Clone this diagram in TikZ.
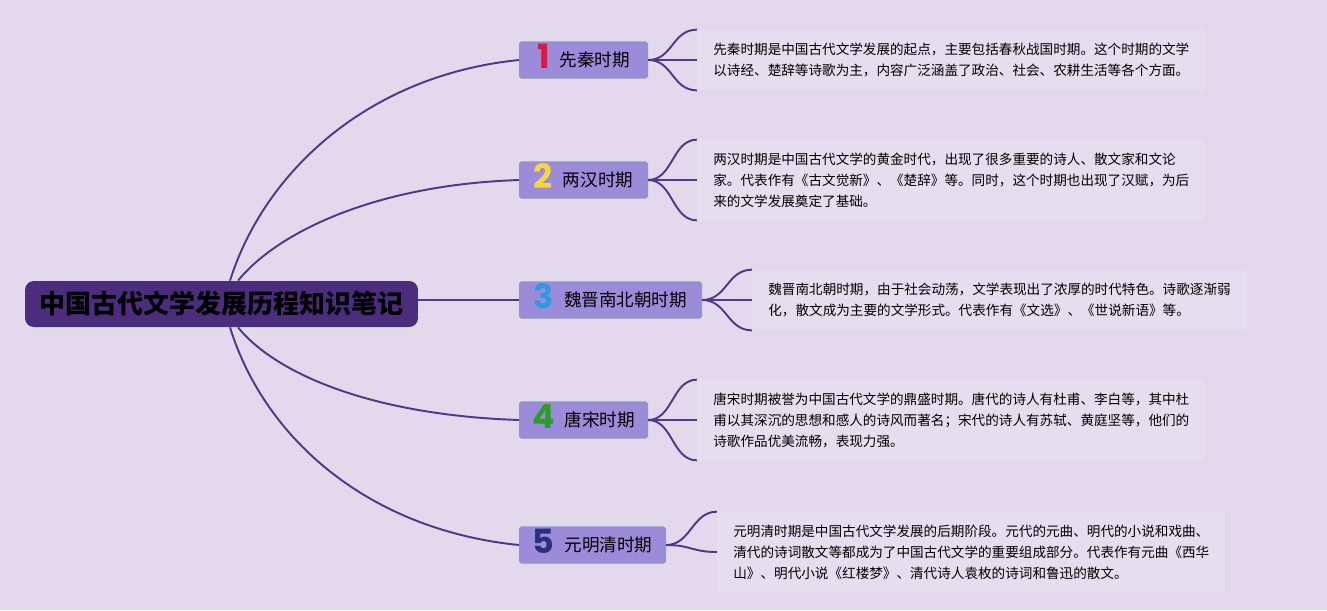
\documentclass[tikz,border=0pt]{standalone}
\usepackage{fontspec}
\setmainfont{Noto Sans CJK SC}
\newfontfamily\numfont{Poppins}

\definecolor{bgpurple}{HTML}{E2DAEC}
\definecolor{notefill}{HTML}{E5DEEE}
\definecolor{rootpurple}{HTML}{4C2D7D}
\definecolor{boxpurple}{HTML}{9B8BD9}
\definecolor{boxedge}{HTML}{8A9AB8}
\definecolor{linepurple}{HTML}{52368A}
\definecolor{numred}{HTML}{E0183C}
\definecolor{numyellow}{HTML}{F5D838}
\definecolor{numblue}{HTML}{2C9BE0}
\definecolor{numgreen}{HTML}{28A028}
\definecolor{numnavy}{HTML}{283080}

% coloured period number in front of the label
\newcommand{\periodnum}[2]{\smash{\raisebox{-1pt}{\numfont\bfseries\fontsize{19}{19}\selectfont\color{#1}#2}}\hspace{0.2cm}}

\tikzset{
  root/.style={fill=rootpurple, rounded corners=5pt, minimum width=7.86cm,
    minimum height=0.92cm, inner sep=0pt, text=black,
    font=\fontsize{14.8}{16}\selectfont\bfseries},
  period/.style={fill=boxpurple, draw=boxedge, line width=0.6pt, rounded corners=1pt,
    minimum height=0.72cm, inner sep=0pt, anchor=west,
    font=\fontsize{10}{12}\selectfont},
  note/.style={fill=notefill, anchor=west, align=left, inner xsep=0.32cm,
    inner ysep=0pt, font=\fontsize{7.74}{11.95}\selectfont},
  link/.style={draw=linepurple, line width=1.1pt},
}

\begin{document}
\begin{tikzpicture}[x=0.02cm, y=-0.02cm]

\fill[bgpurple] (0,0) rectangle (1327,610);
\useasboundingbox (0,0) rectangle (1327,610);

% ===== Root =====
\node[root] (root) at (221.5,304) {中国古代文学发展历程知识笔记};

% ===== Periods =====
\node[period, minimum width=2.56cm] (p1) at (519,60)  {\periodnum{numred}{1}先秦时期};
\node[period, minimum width=2.56cm] (p2) at (519,180) {\periodnum{numyellow}{2}两汉时期};
\node[period, minimum width=3.64cm] (p3) at (519,300) {\periodnum{numblue}{3}魏晋南北朝时期};
\node[period, minimum width=2.56cm] (p4) at (519,420) {\periodnum{numgreen}{4}唐宋时期};
\node[period, minimum width=2.92cm] (p5) at (519,545) {\periodnum{numnavy}{5}元明清时期};

% ===== Notes =====
\node[note, minimum height=1.2cm] (n1) at (697,60)
  {先秦时期是中国古代文学发展的起点，主要包括春秋战国时期。这个时期的文学\\
   以诗经、楚辞等诗歌为主，内容广泛涵盖了政治、社会、农耕生活等各个方面。};
\node[note, minimum height=1.6cm] (n2) at (697,180)
  {两汉时期是中国古代文学的黄金时代，出现了很多重要的诗人、散文家和文论\\
   家。代表作有《古文觉新》、《楚辞》等。同时，这个时期也出现了汉赋，为后\\
   来的文学发展奠定了基础。};
\node[note, minimum height=1.2cm] (n3) at (752,300)
  {魏晋南北朝时期，由于社会动荡，文学表现出了浓厚的时代特色。诗歌逐渐弱\\
   化，散文成为主要的文学形式。代表作有《文选》、《世说新语》等。};
\node[note, minimum height=1.6cm] (n4) at (697,420)
  {唐宋时期被誉为中国古代文学的鼎盛时期。唐代的诗人有杜甫、李白等，其中杜\\
   甫以其深沉的思想和感人的诗风而著名；宋代的诗人有苏轼、黄庭坚等，他们的\\
   诗歌作品优美流畅，表现力强。};
\node[note, minimum height=1.6cm] (n5) at (717,552)
  {元明清时期是中国古代文学发展的后期阶段。元代的元曲、明代的小说和戏曲、\\
   清代的诗词散文等都成为了中国古代文学的重要组成部分。代表作有元曲《西华\\
   山》、明代小说《红楼梦》、清代诗人袁枚的诗词和鲁迅的散文。};

% ===== Root to periods =====
\draw[link] ([xshift=0.17cm]root.north) .. controls (265,170) and (370,75) .. (p1.west);
\draw[link] ([xshift=0.33cm]root.north) .. controls (275,235) and (370,185) .. (p2.west);
\draw[link] (root.east |- p3.west) -- (p3.west);
\draw[link] ([xshift=0.33cm]root.south) .. controls (275,373) and (370,415) .. (p4.west);
\draw[link] ([xshift=0.17cm]root.south) .. controls (265,440) and (370,530) .. (p5.west);

% ===== Periods to notes =====
\foreach \p/\n in {p1/n1, p2/n2, p3/n3, p4/n4}
  \foreach \a in {north west, west, south west}
    \draw[link] (\p.east) .. controls +(25,0) and +(-25,0) .. (\n.\a);
\foreach \a in {north west, west}
  \draw[link] (p5.east) .. controls +(25,0) and +(-25,0) .. (n5.\a);

\end{tikzpicture}
\end{document}
